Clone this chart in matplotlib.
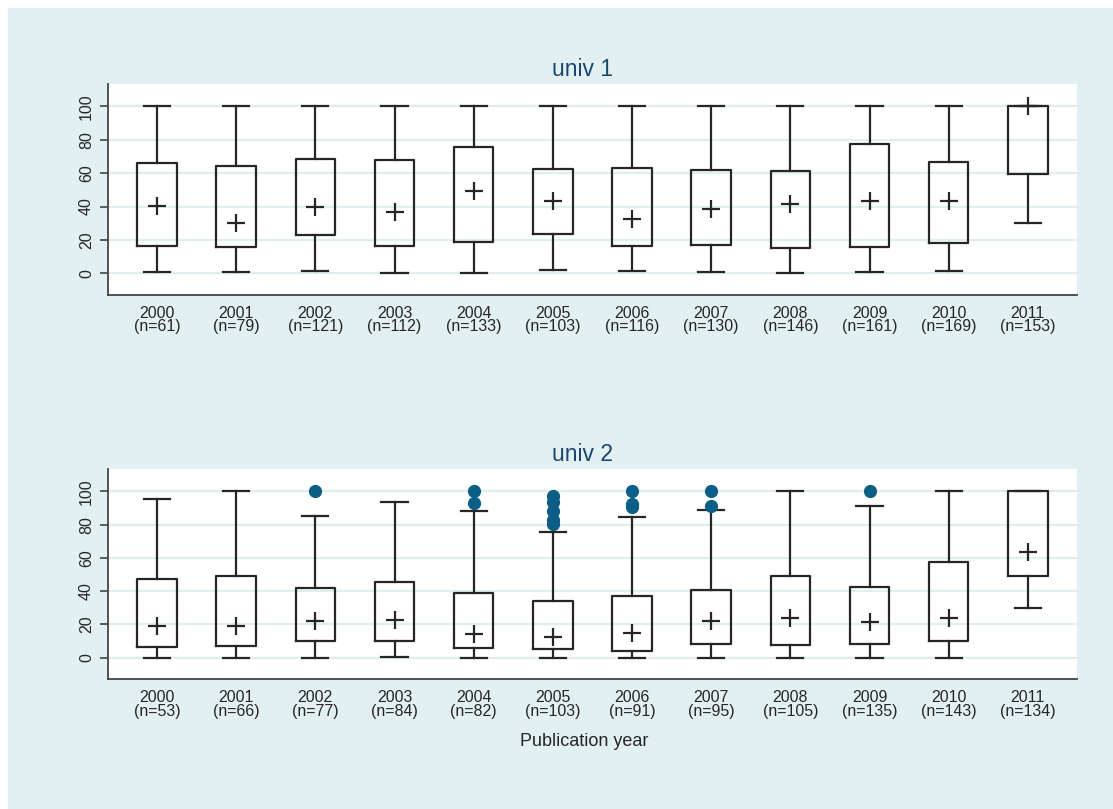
import numpy as np
import matplotlib
matplotlib.use('Agg')
import matplotlib.pyplot as plt
from matplotlib.patches import Rectangle

plt.rcParams['font.family'] = ['Liberation Sans', 'DejaVu Sans']

years = list(range(2000, 2012))

# univ 1
n1 = [61, 79, 121, 112, 133, 103, 116, 130, 146, 161, 169, 153]
lo1 = [0.6, 0.6, 1.4, 0.2, 0.2, 2.0, 1.4, 1.0, 0.0, 0.6, 1.4, 30.4]
q1_1 = [16.2, 15.8, 23.0, 16.6, 19.0, 23.8, 16.2, 17.0, 15.4, 15.8, 18.0, 59.8]
med1 = [40.4, 30.0, 39.6, 36.8, 49.4, 43.6, 32.6, 38.6, 41.6, 43.6, 43.2, 100.0]
q3_1 = [66.0, 64.6, 68.6, 68.2, 75.8, 62.6, 63.0, 62.2, 61.4, 77.8, 67.0, 100.0]
hi1 = [100.0] * 12
out1 = [[] for _ in years]

# univ 2
n2 = [53, 66, 77, 84, 82, 103, 91, 95, 105, 135, 143, 134]
lo2 = [0.0, 0.0, 0.0, 0.6, 0.0, 0.0, 0.0, 0.0, 0.0, 0.0, 0.0, 30.1]
q1_2 = [6.4, 7.2, 10.2, 9.8, 5.8, 5.4, 4.2, 8.4, 7.4, 8.4, 10.0, 48.9]
med2 = [19.2, 19.2, 21.8, 22.4, 14.4, 12.6, 14.8, 22.0, 23.8, 21.4, 23.8, 63.3]
q3_2 = [47.3, 49.3, 41.7, 45.7, 39.1, 33.9, 36.9, 40.9, 49.3, 42.7, 57.7, 100.0]
hi2 = [95.6, 100.0, 85.4, 93.6, 88.4, 75.4, 84.6, 88.6, 100.0, 91.0, 100.0, 100.0]
out2 = [[], [], [100], [], [100, 93], [97, 93.4, 88, 82.6, 80.6],
        [100, 92.6, 90.6], [100, 91], [], [100], [], []]

bg = '#e2f0f1'
ink = '#262626'
navy = '#1a476f'
dot = '#0b5f86'

fig = plt.figure(figsize=(11.13, 8.09), dpi=100)
fig.patches.append(Rectangle((8 / 1113, 0), 1, 1 - 8 / 809,
                             transform=fig.transFigure, color=bg, zorder=-10))


def panel(ax, title, lo, q1, med, q3, hi, out, n):
    pos = np.arange(len(years))
    stats = []
    for i in range(len(years)):
        stats.append(dict(whislo=lo[i], q1=q1[i], med=med[i], q3=q3[i],
                          whishi=hi[i], fliers=out[i]))
    ax.bxp(stats, positions=pos, widths=0.5, capwidths=0.33,
           boxprops=dict(color=ink, lw=1.6),
           whiskerprops=dict(color=ink, lw=1.6),
           capprops=dict(color=ink, lw=1.6),
           medianprops=dict(linestyle='none'),
           flierprops=dict(marker='o', markersize=8.5, markerfacecolor=dot,
                           markeredgecolor=dot))
    ax.plot(pos, med, '+', color=ink, markersize=13, mew=1.6, zorder=5)

    ax.set_xlim(-0.62, len(years) - 1 + 0.62)
    ax.set_ylim(-13, 113.3)
    ax.set_yticks(range(0, 101, 20))
    ax.grid(axis='y', color='#e1eef0', lw=1.6)
    ax.set_axisbelow(True)
    ax.set_xticks(pos)
    ax.set_xticklabels(['%d\n(n=%d)' % (y, k) for y, k in zip(years, n)],
                       fontsize=11.5, color=ink, linespacing=0.85)
    ax.tick_params(axis='x', length=0, pad=8)
    ax.tick_params(axis='y', length=6, width=1.2, color='#444444',
                   labelsize=11.5, labelcolor=ink, pad=4)
    for lab in ax.get_yticklabels():
        lab.set_rotation(90)
        lab.set_va('center')
    for s in ('top', 'right'):
        ax.spines[s].set_visible(False)
    for s in ('left', 'bottom'):
        ax.spines[s].set_color('#444444')
        ax.spines[s].set_linewidth(1.3)
    ax.text(0.49, 1.07, title, transform=ax.transAxes, ha='center',
            va='center', fontsize=16.5, color=navy)


ax1 = fig.add_axes([0.0970, 0.6354, 0.8706, 0.2604])
panel(ax1, 'univ 1', lo1, q1_1, med1, q3_1, hi1, out1, n1)

ax2 = fig.add_axes([0.0970, 0.1603, 0.8706, 0.2596])
panel(ax2, 'univ 2', lo2, q1_2, med2, q3_2, hi2, out2, n2)

fig.text(584 / 1113, 1 - 741 / 809, 'Publication year', ha='center',
         va='center', fontsize=13, color=ink)

fig.savefig('out.png', dpi=100)
